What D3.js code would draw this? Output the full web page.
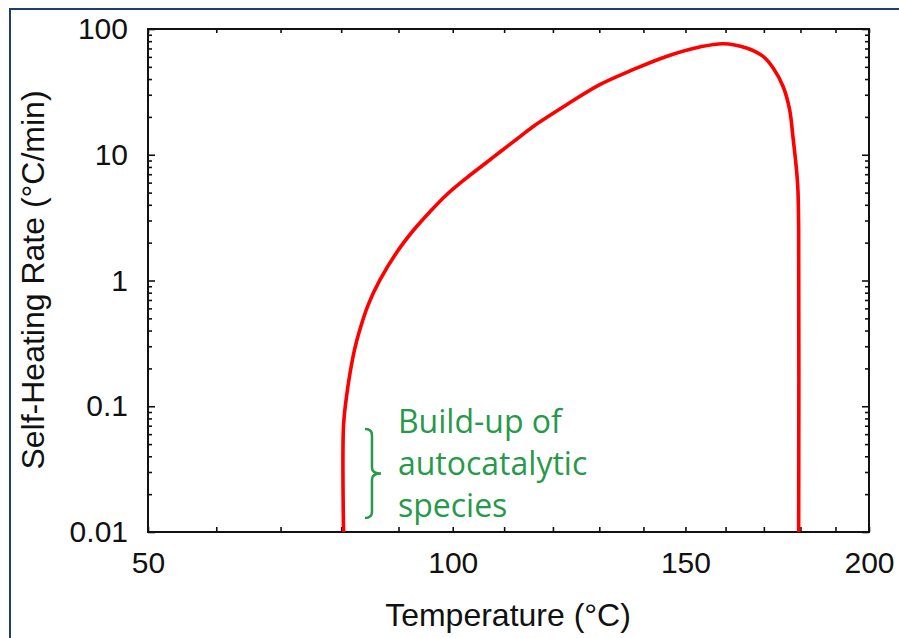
<!DOCTYPE html>
<html lang="en">
<head>
    <meta charset="UTF-8">
    <title>Self-heating rate</title>
    <style>
      body { margin: 0; background: #fff; }
      svg { display: block; }
    </style>
</head>
<body>
    <svg></svg>
    <script src="https://d3js.org/d3.v7.min.js"></script>
    <script>
      // temperature (°C) and self-heating rate (°C/min)
      const temps = [80.4, 80.4, 80.9, 81.5, 82.3, 83.2, 84.6, 86.7, 89.7, 92.7, 95.7, 98.8,
        102.6, 106.5, 109.1, 112.5, 115.9, 122.9, 130.1, 137.6, 145.4, 153.5, 159.4,
        165.4, 169.8, 172.5, 175.2, 177.0, 177.9, 178.9, 179.3, 179.5, 179.5];
      const rates = [0.01, 0.071, 0.119, 0.183, 0.285, 0.407, 0.635, 1.01, 1.68, 2.51, 3.51, 4.79,
        6.52, 8.67, 10.47, 13.27, 16.8, 25.0, 36.1, 47.5, 60.5, 71.9, 76.4,
        70.6, 60.5, 48.9, 34.9, 22.8, 14.0, 7.6, 5.26, 2.53, 0.01];

      const xLabelTicks = [50, 100, 150, 200];
      const xMinorTicks = d3.range(50, 201, 10);
      const yMajorTicks = [0.01, 0.1, 1, 10, 100];
      const yTickLabels = ["0.01", "0.1", "1", "10", "100"];
      const annotationLines = ["Build-up of", "autocatalytic", "species"];

      const width = 899;
      const height = 638;
      const plot = { left: 148, right: 869, top: 29, bottom: 532 };

      const svg = d3.select('svg').attr('width', width).attr('height', height);

      // outer frame (only the top and left edges are visible)
      svg.append("rect")
          .attr("x", 10).attr("y", 9)
          .attr("width", 1000).attr("height", 1000)
          .attr("fill", "none")
          .attr("stroke", "#1f3d74")
          .attr("stroke-width", 2);

      // x axis is linear in 1/T (Kelvin)
      const invK = t => 1 / (t + 273.15);
      const xInv = d3.scaleLinear()
          .domain([invK(50), invK(200)])
          .range([plot.left, plot.right]);
      const xScale = t => xInv(invK(t));
      xScale.copy = () => xScale;
      xScale.range = () => xInv.range();
      xScale.domain = () => [50, 200];

      const yScale = d3.scaleLog()
          .domain([0.01, 100])
          .range([plot.bottom, plot.top]);

      const yMinorTicks = [];
      yMajorTicks.slice(0, -1).forEach(d => {
        for (let i = 2; i <= 9; i++) yMinorTicks.push(d * i);
      });

      const tickStyle = g => {
        g.select(".domain").remove();
        g.selectAll("line").attr("stroke", "#111").attr("stroke-width", 1.6);
        g.selectAll("text")
            .attr("fill", "#111")
            .style("font-family", "'Liberation Sans', Arial, sans-serif")
            .style("font-size", "30px");
      };

      // bottom
      svg.append("g")
          .attr("transform", `translate(0,${plot.bottom})`)
          .call(d3.axisBottom(xScale).tickValues(xMinorTicks)
              .tickFormat(d => xLabelTicks.includes(d) ? d : "")
              .tickSizeInner(-5).tickSizeOuter(0).tickPadding(20))
          .call(tickStyle);
      // top
      svg.append("g")
          .attr("transform", `translate(0,${plot.top})`)
          .call(d3.axisTop(xScale).tickValues(xMinorTicks).tickFormat("")
              .tickSizeInner(-4).tickSizeOuter(0))
          .call(tickStyle);

      // left
      svg.append("g")
          .attr("transform", `translate(${plot.left},0)`)
          .call(d3.axisLeft(yScale).tickValues(yMajorTicks)
              .tickFormat((d, i) => yTickLabels[i])
              .tickSizeInner(-7).tickSizeOuter(0).tickPadding(20))
          .call(tickStyle);
      svg.append("g")
          .attr("transform", `translate(${plot.left},0)`)
          .call(d3.axisLeft(yScale).tickValues(yMinorTicks).tickFormat("")
              .tickSizeInner(-4).tickSizeOuter(0))
          .call(tickStyle);
      // right
      svg.append("g")
          .attr("transform", `translate(${plot.right},0)`)
          .call(d3.axisRight(yScale).tickValues(yMajorTicks).tickFormat("")
              .tickSizeInner(-7).tickSizeOuter(0))
          .call(tickStyle);
      svg.append("g")
          .attr("transform", `translate(${plot.right},0)`)
          .call(d3.axisRight(yScale).tickValues(yMinorTicks).tickFormat("")
              .tickSizeInner(-4).tickSizeOuter(0))
          .call(tickStyle);

      // plot box
      svg.append("rect")
          .attr("x", plot.left).attr("y", plot.top)
          .attr("width", plot.right - plot.left)
          .attr("height", plot.bottom - plot.top)
          .attr("fill", "none")
          .attr("stroke", "#111")
          .attr("stroke-width", 2);

      // curve
      const data = temps.map((t, i) => ({ t, r: rates[i] }));
      const line = d3.line()
          .x(d => xScale(d.t))
          .y(d => yScale(d.r))
          .curve(d3.curveCatmullRom.alpha(0.5));

      svg.append("path")
          .datum(data)
          .attr("d", line)
          .attr("fill", "none")
          .attr("stroke", "#ff0000")
          .attr("stroke-width", 3.6)
          .attr("stroke-linejoin", "round");

      // axis titles
      svg.append("text")
          .attr("x", 508).attr("y", 626)
          .attr("text-anchor", "middle")
          .attr("fill", "#111")
          .style("font-family", "'Liberation Sans', Arial, sans-serif")
          .style("font-size", "32px")
          .text("Temperature (°C)");

      svg.append("text")
          .attr("transform", "translate(44,280) rotate(-90)")
          .attr("text-anchor", "middle")
          .attr("fill", "#111")
          .style("font-family", "'Liberation Sans', Arial, sans-serif")
          .style("font-size", "32px")
          .text("Self-Heating Rate (°C/min)");

      // annotation bracket + text
      const green = "#27994a";
      const bx = xScale(85.3);
      const bTop = yScale(0.066), bBot = yScale(0.0129);
      const bMid = (bTop + bBot) / 2;
      const bracket = d3.path();
      bracket.moveTo(bx - 7, bTop);
      bracket.quadraticCurveTo(bx, bTop, bx, bTop + 6);
      bracket.lineTo(bx, bMid - 6);
      bracket.quadraticCurveTo(bx, bMid, bx + 9, bMid);
      bracket.quadraticCurveTo(bx, bMid, bx, bMid + 6);
      bracket.lineTo(bx, bBot - 6);
      bracket.quadraticCurveTo(bx, bBot, bx - 7, bBot);
      svg.append("path")
          .attr("d", bracket.toString())
          .attr("fill", "none")
          .attr("stroke", green)
          .attr("stroke-width", 2.5);

      svg.append("g")
          .selectAll("text")
          .data(annotationLines)
          .join("text")
            .attr("x", xScale(89.9))
            .attr("y", (d, i) => 433 + i * 42)
            .attr("fill", green)
            .style("font-family", "'Open Sans', sans-serif")
            .style("font-size", "32px")
            .text(d => d);
    </script>
</body>
</html>
